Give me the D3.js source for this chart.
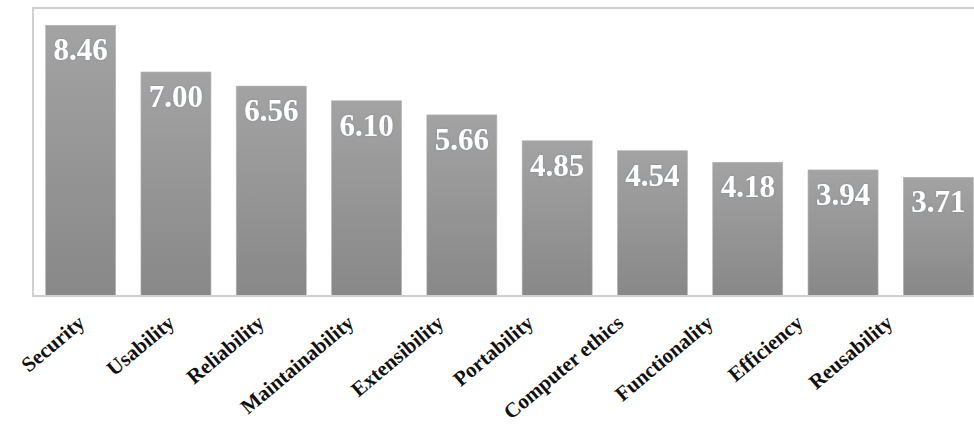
<!DOCTYPE html>
<html>
<head>
<meta charset="utf-8">
<script src="https://cdn.jsdelivr.net/npm/d3@7"></script>
<style>
  html, body { margin: 0; padding: 0; background: #fff; }
  svg { display: block; }
</style>
</head>
<body>
<svg id="chart" width="974" height="426"></svg>
<script>
const categories = ["Security", "Usability", "Reliability", "Maintainability", "Extensibility",
  "Portability", "Computer ethics", "Functionality", "Efficiency", "Reusability"];
const values = [8.46, 7.00, 6.56, 6.10, 5.66, 4.85, 4.54, 4.18, 3.94, 3.71];
const valueLabels = ["8.46", "7.00", "6.56", "6.10", "5.66", "4.85", "4.54", "4.18", "3.94", "3.71"];

const svg = d3.select("#chart");
const plot = { left: 33, right: 986, top: 8, bottom: 296 };

const x = d3.scaleBand().domain(categories).range([plot.left, plot.right])
  .paddingInner(0.265).paddingOuter(0.1325);
const y = d3.scaleLinear().domain([0, 9]).range([plot.bottom, plot.top]);
// category labels in the reference are spaced slightly tighter than the bars
const xLabel = d3.scalePoint().domain(categories).range([86, 894]);

const defs = svg.append("defs");
const grad = defs.append("linearGradient").attr("id", "barGrad")
  .attr("x1", 0).attr("y1", 0).attr("x2", 0).attr("y2", 1);
grad.append("stop").attr("offset", "0%").attr("stop-color", "#a3a3a3");
grad.append("stop").attr("offset", "100%").attr("stop-color", "#888888");

const filt = defs.append("filter").attr("id", "glow").attr("x", "-20%").attr("y", "-20%")
  .attr("width", "140%").attr("height", "140%");
filt.append("feGaussianBlur").attr("in", "SourceAlpha").attr("stdDeviation", 0.8).attr("result", "b");
filt.append("feFlood").attr("flood-color", "#6a7a90").attr("flood-opacity", 0.6);
filt.append("feComposite").attr("in2", "b").attr("operator", "in").attr("result", "s");
const merge = filt.append("feMerge");
merge.append("feMergeNode").attr("in", "s");
merge.append("feMergeNode").attr("in", "SourceGraphic");

// plot border
svg.append("rect")
  .attr("x", plot.left).attr("y", plot.top)
  .attr("width", plot.right - plot.left).attr("height", plot.bottom - plot.top)
  .attr("fill", "none").attr("stroke", "#d0d0d0").attr("stroke-width", 2);

// bars
svg.append("g").selectAll("rect").data(categories).join("rect")
  .attr("x", d => x(d))
  .attr("y", (d, i) => y(values[i]))
  .attr("width", x.bandwidth())
  .attr("height", (d, i) => y(0) - y(values[i]))
  .attr("fill", "url(#barGrad)")
  .attr("stroke", "#b4b4b4").attr("stroke-width", 0.6);

// value labels
svg.append("g").selectAll("text").data(categories).join("text")
  .attr("x", d => x(d) + x.bandwidth() / 2)
  .attr("y", (d, i) => y(values[i]) + 35)
  .attr("text-anchor", "middle")
  .attr("font-family", "'Liberation Serif', 'Times New Roman', serif")
  .attr("font-weight", "bold")
  .attr("font-size", 31)
  .attr("fill", "#ffffff")
  .attr("filter", "url(#glow)")
  .text((d, i) => valueLabels[i]);

// x axis line
svg.append("line")
  .attr("x1", plot.left).attr("x2", plot.right)
  .attr("y1", plot.bottom).attr("y2", plot.bottom)
  .attr("stroke", "#d0d0d0").attr("stroke-width", 2);

// category labels
svg.append("g").selectAll("text").data(categories).join("text")
  .attr("transform", d => `translate(${xLabel(d)},${plot.bottom + 29}) rotate(-40)`)
  .attr("text-anchor", "end")
  .attr("font-family", "'Liberation Serif', 'Times New Roman', serif")
  .attr("font-weight", "bold")
  .attr("font-size", 21)
  .attr("fill", "#111")
  .text(d => d);
</script>
</body>
</html>
